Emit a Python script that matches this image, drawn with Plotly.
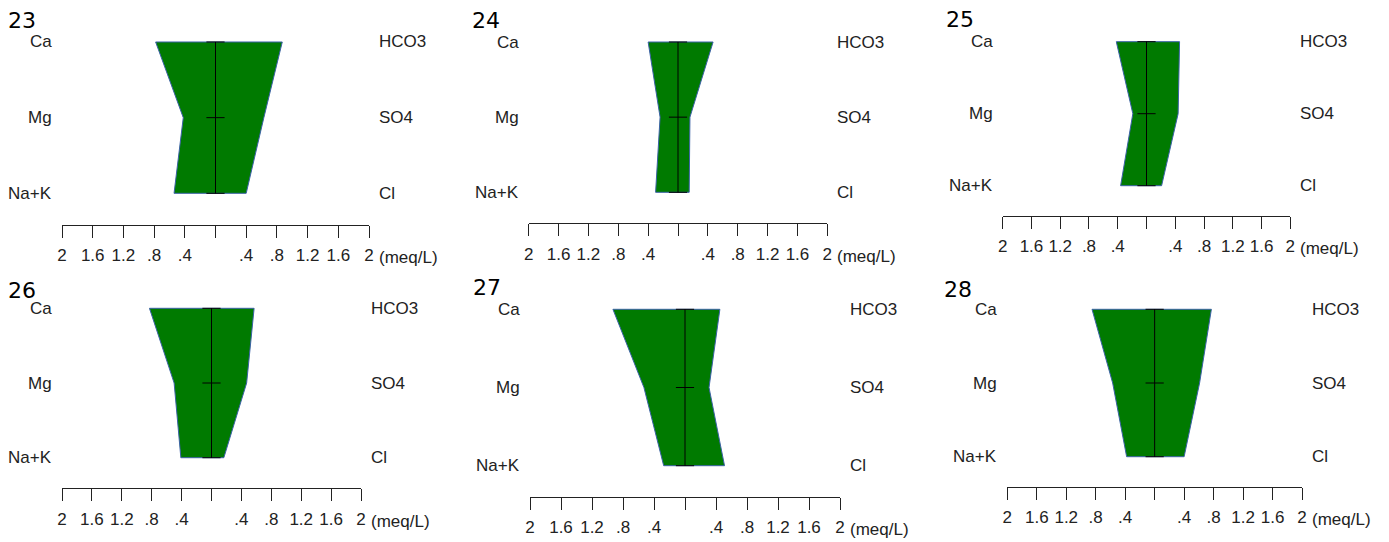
import plotly.graph_objects as go

# ---- data (meq/L) ----
samples = ["23", "24", "25", "26", "27", "28"]
ca   = [0.78, 0.40, 0.42, 0.83, 0.93, 0.85]
mg   = [0.42, 0.24, 0.19, 0.50, 0.53, 0.57]
nak  = [0.54, 0.30, 0.36, 0.41, 0.275, 0.38]
hco3 = [0.87, 0.47, 0.46, 0.57, 0.45, 0.77]
so4  = [0.63, 0.16, 0.44, 0.47, 0.31, 0.61]
cl   = [0.40, 0.15, 0.21, 0.165, 0.51, 0.40]

cation_labels = ["Ca", "Mg", "Na+K"]
anion_labels = ["HCO3", "SO4", "Cl"]
row_pos = [2, 1, 0]

tick_vals = [-2, -1.6, -1.2, -0.8, -0.4, 0, 0.4, 0.8, 1.2, 1.6, 2]
tick_text = ["2", "1.6", "1.2", ".8", ".4", "", ".4", ".8", "1.2", "1.6", "2"]
unit_label = "(meq/L)"

# ---- layout geometry (pixels) ----
W, H = 1389, 542
# axis_left, axis_right, ca_row_px, nak_row_px, axis_px, title_x, title_top
panels = [
    (62.0, 369.0, 42.0, 193.3, 225.0, 10.0, 13.0),
    (528.7, 827.3, 42.0, 192.3, 223.3, 474.3, 13.3),
    (1002.7, 1290.3, 41.7, 185.7, 215.7, 948.3, 11.7),
    (62.0, 361.0, 308.3, 457.7, 488.3, 10.0, 283.3),
    (530.0, 840.0, 309.3, 465.7, 496.7, 475.0, 280.0),
    (1007.3, 1302.0, 309.3, 456.7, 486.7, 946.0, 281.7),
]

FILL = "#007a00"
EDGE = "#3b62a6"
TXT = "#222222"
LABEL_FONT = dict(family="Liberation Sans, Arial", size=17, color=TXT)

fig = go.Figure()
annotations = []
layout_axes = {}

for i, s in enumerate(samples):
    k = i + 1
    xa = "x" if k == 1 else f"x{k}"
    ya = "y" if k == 1 else f"y{k}"
    xl, xr, ca_px, nak_px, ax_px, tx, tt = panels[i]
    sp = (nak_px - ca_px) / 2.0
    off = (ax_px - nak_px) / sp
    top_extra = 0.25
    top_px = ca_px - top_extra * sp

    layout_axes[f"xaxis{k if k > 1 else ''}"] = dict(
        domain=[xl / W, xr / W], range=[-2, 2], anchor=ya,
        showgrid=False, zeroline=False, showline=True, linecolor=TXT, linewidth=1,
        ticks="outside", ticklen=12, tickwidth=1, tickcolor=TXT,
        tickmode="array", tickvals=tick_vals, ticktext=tick_text,
        tickfont=LABEL_FONT, fixedrange=True, automargin=False,
        ticklabelstandoff=3,
    )
    layout_axes[f"yaxis{k if k > 1 else ''}"] = dict(
        domain=[1 - ax_px / H, 1 - top_px / H], range=[-off, 2 + top_extra],
        anchor=xa, visible=False, fixedrange=True,
    )

    left = [-ca[i], -mg[i], -nak[i]]
    right = [cl[i], so4[i], hco3[i]]
    px = left + right + [left[0]]
    py = row_pos + row_pos[::-1] + [row_pos[0]]
    fig.add_trace(go.Scatter(
        x=px, y=py, mode="lines", fill="toself", fillcolor=FILL,
        line=dict(color=EDGE, width=1), xaxis=xa, yaxis=ya,
        hoverinfo="skip", showlegend=False,
    ))
    fig.add_trace(go.Scatter(
        x=[0, 0], y=[row_pos[0], row_pos[-1]], mode="lines",
        line=dict(color="black", width=1), xaxis=xa, yaxis=ya,
        hoverinfo="skip", showlegend=False,
    ))
    fig.add_trace(go.Scatter(
        x=[0] * len(row_pos), y=row_pos, mode="markers",
        marker=dict(symbol="line-ew", size=13, line=dict(color="black", width=1)),
        xaxis=xa, yaxis=ya, hoverinfo="skip", showlegend=False,
    ))

    for lab, r in zip(cation_labels, row_pos):
        annotations.append(dict(
            x=-2, y=r, xref=xa, yref=ya, text=lab, showarrow=False,
            xanchor="right", yanchor="middle", xshift=-8, yshift=0, font=LABEL_FONT,
        ))
    for lab, r in zip(anion_labels, row_pos):
        annotations.append(dict(
            x=2, y=r, xref=xa, yref=ya, text=lab, showarrow=False,
            xanchor="left", yanchor="middle", xshift=8, yshift=0, font=LABEL_FONT,
        ))
    annotations.append(dict(
        x=2, y=-off, xref=xa, yref=ya, text=unit_label, showarrow=False,
        xanchor="left", yanchor="middle", xshift=8, yshift=-33, font=LABEL_FONT,
    ))
    annotations.append(dict(
        x=tx / W, y=1 - (tt - 5) / H, xref="paper", yref="paper", text=s,
        showarrow=False, xanchor="left", yanchor="top", xshift=-2,
        borderpad=0, borderwidth=0,
        font=dict(family="DejaVu Sans", size=22, color="black"),
    ))

fig.update_layout(
    width=W, height=H, margin=dict(l=0, r=0, t=0, b=0),
    paper_bgcolor="white", plot_bgcolor="white",
    annotations=annotations, showlegend=False, **layout_axes,
)

fig.write_html(
    "out.html",
    config={"displayModeBar": False},
    post_script="document.body.style.margin='0';document.body.style.overflow='hidden';",
)
